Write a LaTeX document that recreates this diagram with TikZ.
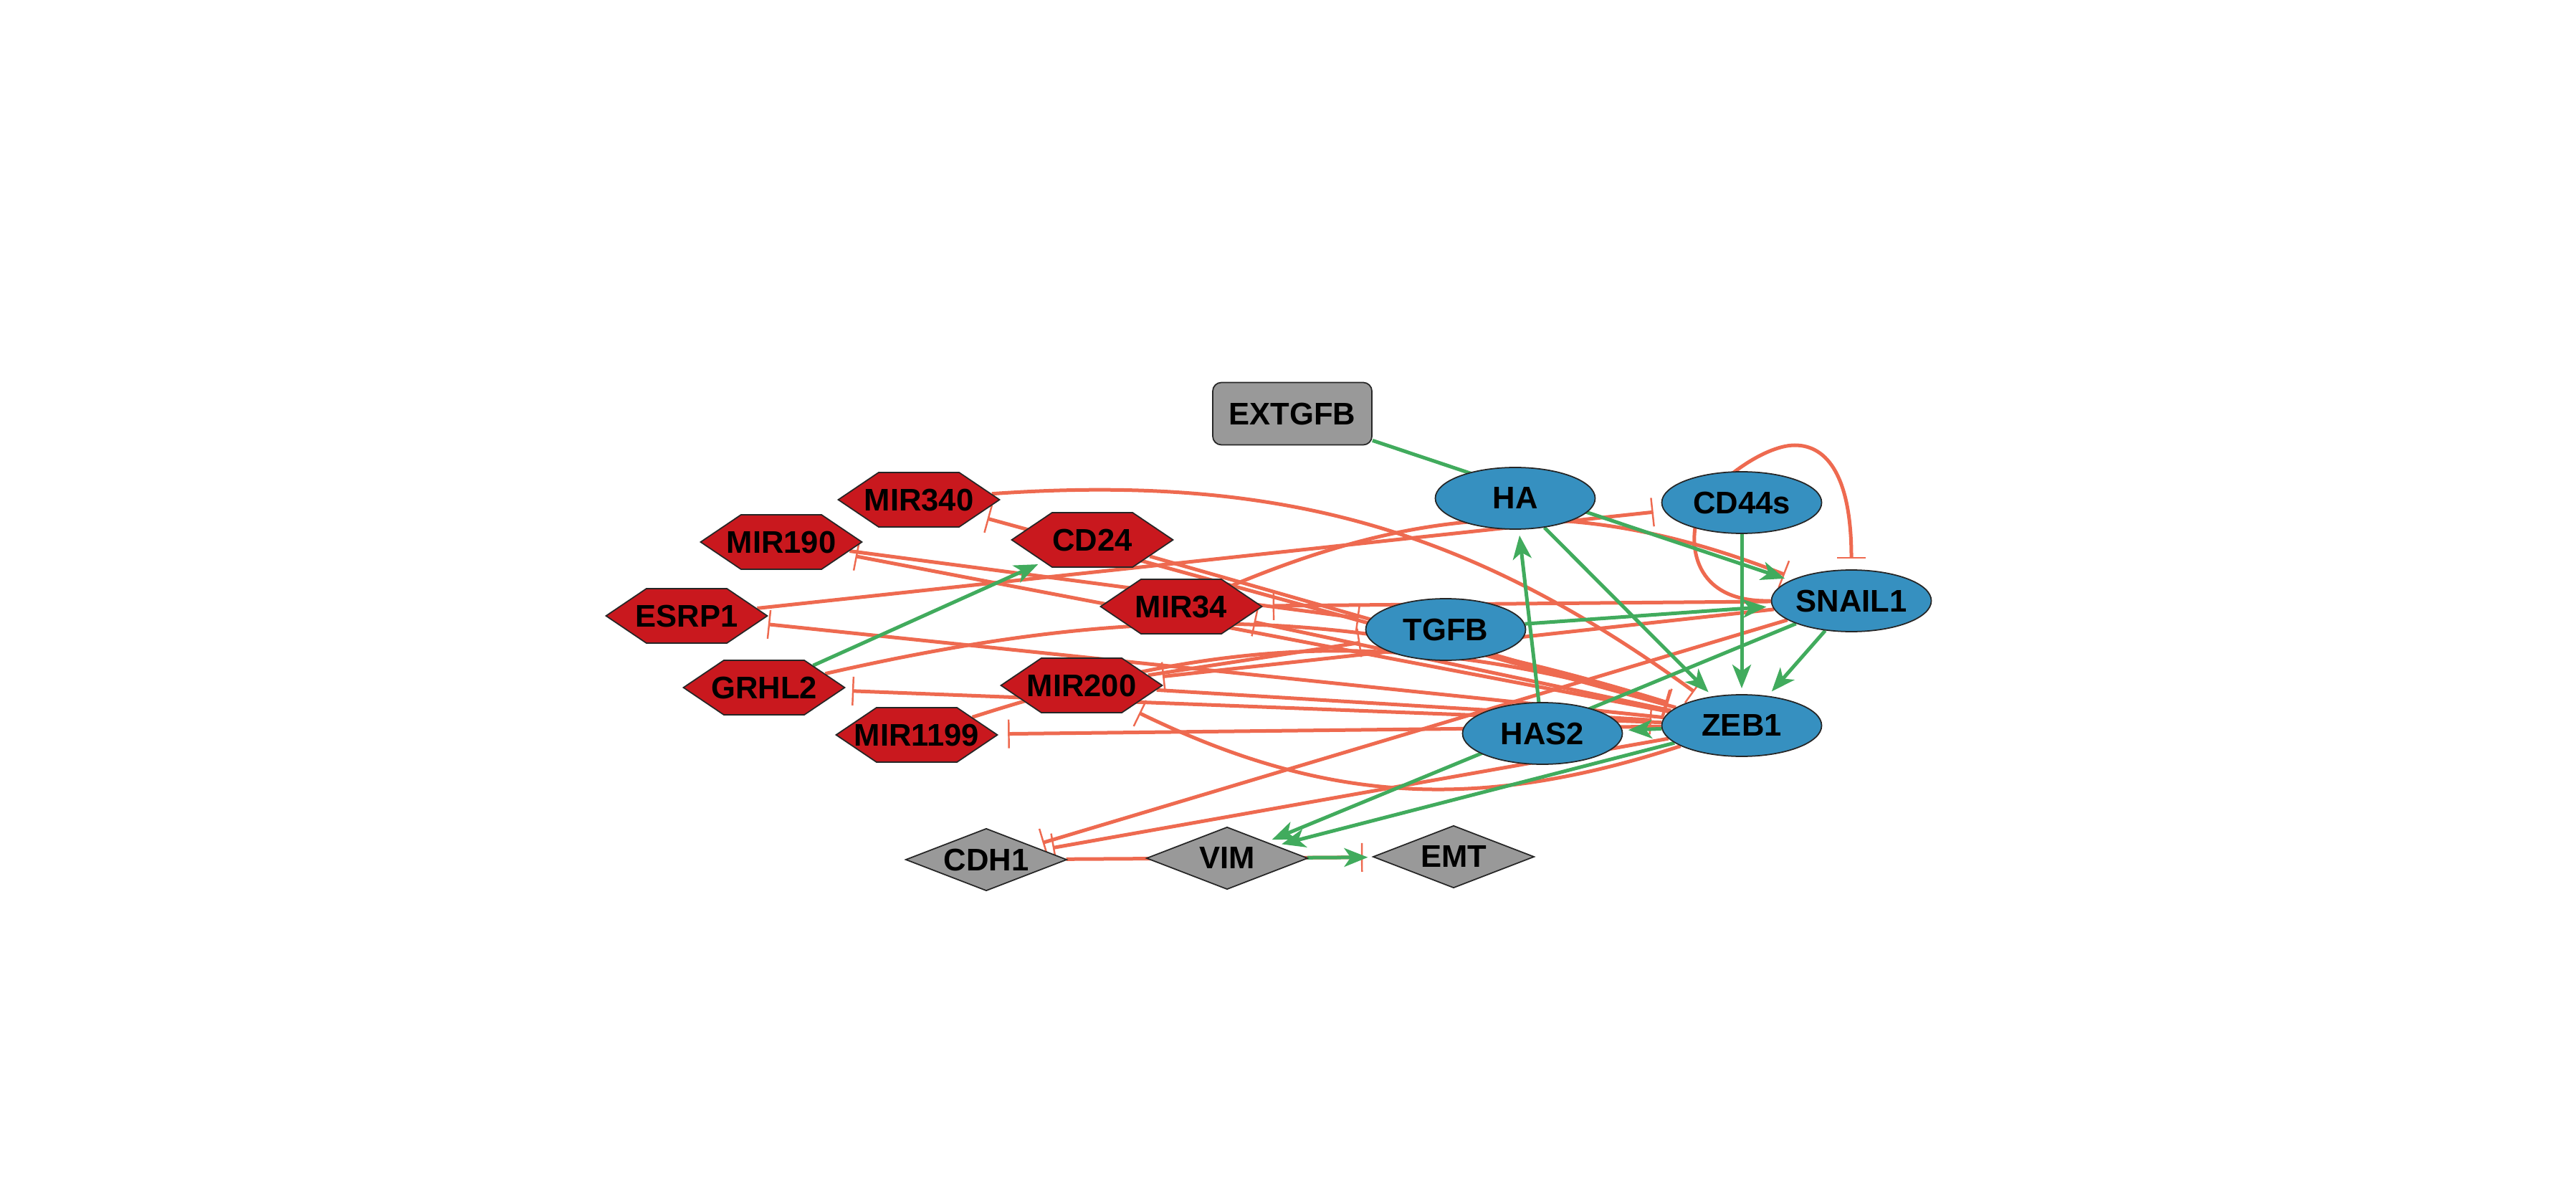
\documentclass[tikz,border=0pt]{standalone}
\usepackage{fontspec}
\setmainfont{Liberation Sans}
\usepackage{xcolor}
\usepackage{tikz}
\usetikzlibrary{arrows.meta}
\usetikzlibrary{shapes.geometric}
\usetikzlibrary{shapes.symbols}

\definecolor{inhred}{HTML}{EE6A50}
\definecolor{actgreen}{HTML}{41AB5D}
\definecolor{nodeblue}{HTML}{3690C0}
\definecolor{mirred}{HTML}{C9181E}
\definecolor{boxgray}{HTML}{999999}

% label box of size zero, so every node gets the size of its style
\newcommand{\nodelabel}[1]{\smash{\raisebox{-0.5\height}{\makebox[0pt]{#1}}}}

\pgfdeclarelayer{background}
\pgfsetlayers{background,main}

\tikzset{
  nodebase/.style={font=\fontsize{12.4pt}{14pt}\selectfont\bfseries, inner sep=0pt, draw=black!85, line width=0.5pt},
  gene/.style={nodebase, ellipse, fill=nodeblue, minimum width=2.23cm, minimum height=0.86cm},
  mirna/.style={nodebase, signal, signal to=west and east, signal pointer angle=68, fill=mirred, minimum width=2.25cm, minimum height=0.76cm},
  marker/.style={nodebase, diamond, fill=boxgray, minimum width=2.25cm, minimum height=0.87cm},
  input/.style={nodebase, rectangle, rounded corners=0.12cm, fill=boxgray, minimum width=2.22cm, minimum height=0.87cm},
  act/.style={draw=actgreen, line width=0.05cm, -{Stealth[length=0.33cm,width=0.26cm,inset=0.09cm]}, shorten >=0.08cm},
  inh/.style={draw=inhred, line width=0.05cm, -{Bar[width=0.4cm,line width=0.7pt]}, shorten >=0.15cm},
}

\begin{document}
\begin{tikzpicture}
            % Page size of the reference
            \begin{pgfonlayer}{background}
            \fill[white] (0,0) rectangle (35.94,16.56);%
            \end{pgfonlayer}
            \useasboundingbox (0,0) rectangle (35.94,16.56);%

            % Input node
            \node[input] (extgfb) at (18.03,10.79) {\nodelabel{EXTGFB}};%

            % Blue nodes
            \node[gene] (ha) at (21.14,9.61) {\nodelabel{HA}};%
            \node[gene] (cd44s) at (24.30,9.55) {\nodelabel{CD44s}};%
            \node[gene] (snail1) at (25.83,8.18) {\nodelabel{SNAIL1}};%
            \node[gene] (tgfb) at (20.17,7.78) {\nodelabel{TGFB}};%
            \node[gene] (has2) at (21.52,6.33) {\nodelabel{HAS2}};%
            \node[gene] (zeb1) at (24.30,6.44) {\nodelabel{ZEB1}};%

            % Red nodes
            \node[mirna] (mir340) at (12.82,9.59) {\nodelabel{MIR340}};%
            \node[mirna] (mir190) at (10.90,9.00) {\nodelabel{MIR190}};%
            \node[mirna] (cd24) at (15.24,9.03) {\nodelabel{CD24}};%
            \node[mirna] (esrp1) at (9.58,7.97) {\nodelabel{ESRP1}};%
            \node[mirna] (mir34) at (16.48,8.10) {\nodelabel{MIR34}};%
            \node[mirna] (grhl2) at (10.66,6.97) {\nodelabel{GRHL2}};%
            \node[mirna] (mir200) at (15.09,7.00) {\nodelabel{MIR200}};%
            \node[mirna] (mir1199) at (12.79,6.31) {\nodelabel{MIR1199}};%

            % Output nodes
            \node[marker] (cdh1) at (13.76,4.57) {\nodelabel{CDH1}};%
            \node[marker] (vim) at (17.12,4.59) {\nodelabel{VIM}};%
            \node[marker] (emt) at (20.28,4.61) {\nodelabel{EMT}};%

            \begin{pgfonlayer}{background}
            % Inhibitions
            \draw[inh] (snail1.west) .. controls (23.6,8.15) and (23.55,9.0) .. (23.7,9.4) .. controls (23.85,9.8) and (24.6,10.35) .. (25.04,10.35) .. controls (25.5,10.35) and (25.83,9.9) .. (snail1.north);%
            \draw[inh] (mir34) to[bend left=22] (snail1);%
            \draw[inh] (snail1) -- (mir34);%
            \draw[inh] (esrp1) -- (cd44s);%
            \draw[inh] (zeb1) -- (esrp1);%
            \draw[inh] (zeb1) -- (grhl2);%
            \draw[inh] (grhl2) to[bend left=15] (zeb1);%
            \draw[inh] (mir340) to[bend left=20] (zeb1);%
            \draw[inh] (zeb1) -- (mir340);%
            \draw[inh] (zeb1) -- (mir190);%
            \draw[inh] (mir190) -- (tgfb);%
            \draw[inh] (mir200) -- (zeb1);%
            \draw[inh] (zeb1) to[bend left=22] (mir200);%
            \draw[inh] (snail1) -- (mir200);%
            \draw[inh] (mir200) -- (tgfb);%
            \draw[inh] (zeb1) -- (mir1199);%
            \draw[inh] (mir1199) to[bend left=17] (zeb1);%
            \draw[inh] (snail1) -- (cdh1);%
            \draw[inh] (zeb1) -- (cdh1);%
            \draw[inh] (cdh1) -- (emt);%
            \draw[inh] (cd24) -- (zeb1);%
            \draw[inh] (zeb1) -- (mir34);%

            % Activations
            \draw[act] (extgfb) -- (snail1);%
            \draw[act] (tgfb) -- (snail1);%
            \draw[act] (ha) -- (zeb1);%
            \draw[act] (has2) -- (ha);%
            \draw[act] (cd44s) -- (zeb1);%
            \draw[act] (snail1) -- (zeb1);%
            \draw[act] (snail1) -- (vim);%
            \draw[act] (zeb1) -- (vim);%
            \draw[act] (zeb1) -- (has2);%
            \draw[act] (grhl2) -- (cd24);%
            \draw[act] (vim) -- (emt);%
            \end{pgfonlayer}
\end{tikzpicture}
\end{document}
